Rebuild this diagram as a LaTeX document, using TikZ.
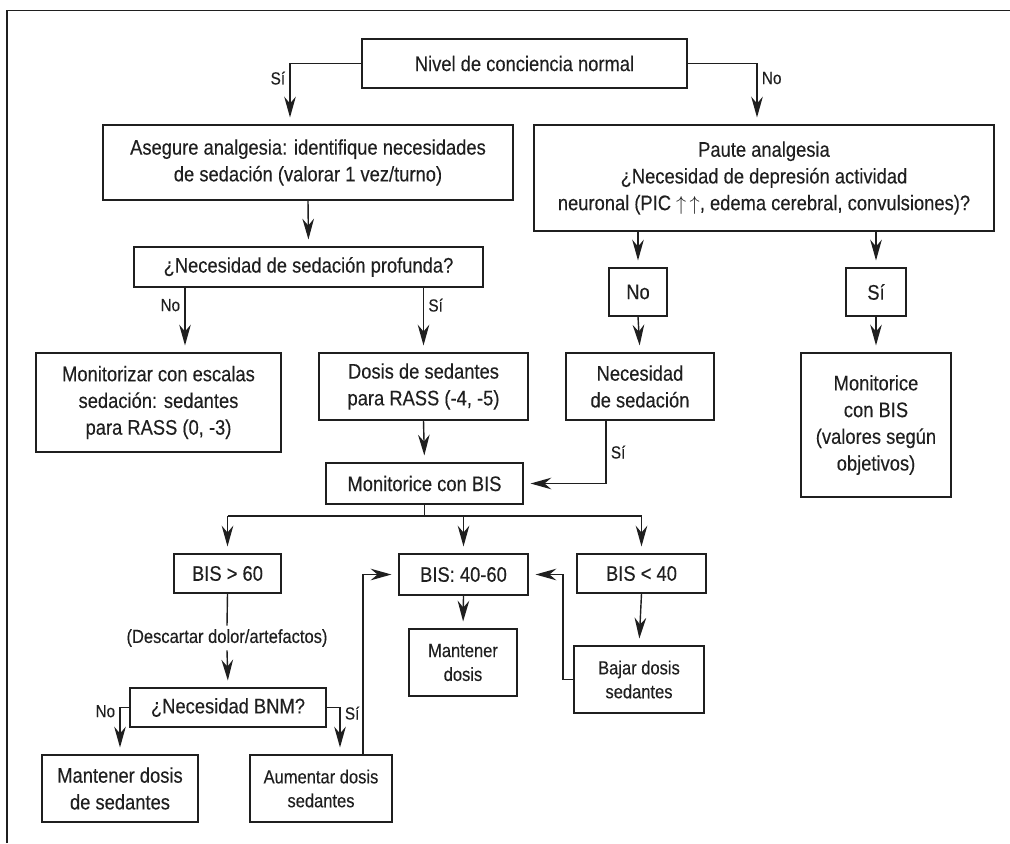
\documentclass[tikz,border=0pt]{standalone}
\usepackage{fontspec}
\setmainfont{Liberation Sans}[FakeStretch=0.87, FakeBold=0.25]
\usetikzlibrary{arrows.meta, positioning}

\begin{document}
\begin{tikzpicture}[x=0.025cm, y=-0.025cm, line width=1pt, color=black!88,
    box/.style={draw, align=center, inner sep=2pt, font=\fontsize{15}{19}\selectfont},
    small/.style={font=\fontsize{13.5}{17}\selectfont},
    lbl/.style={font=\fontsize{12.5}{14}\selectfont, inner sep=3pt},
    flow/.style={-{Stealth[length=5.2mm, width=2.9mm, inset=1.7mm]}, shorten >=0.17cm}]
    \useasboundingbox (0,0) rectangle (1010,843);

    % Frame (left and top only)
    \draw (7,843) -- (7,10.5) -- (1010,10.5);

    % Columns where arrows do not hit a box centre
    \coordinate (xSiA) at (290,0);
    \coordinate (xNoA) at (757,0);
    \coordinate (xNoB) at (185,0);
    \coordinate (xNs) at (606,0);
    \coordinate (xSiB) at (340,0);
    \coordinate (xAu) at (363,0);
    \coordinate (xBj) at (563,0);
    \coordinate (bus) at (0,516);

    % Top levels
    \node[box, minimum width=8.125cm, minimum height=1.225cm] (nivel) at (524.5,63.5) {Nivel de conciencia normal};
    \node[box, minimum width=10.25cm, minimum height=1.875cm] (asegure) at (308,162.5) {Asegure analgesia: identifique necesidades\\de sedación (valorar 1 vez/turno)};
    \node[box, minimum width=11.5cm, minimum height=2.65cm] (paute) at (764,178) {Paute analgesia\\¿Necesidad de depresión actividad\\neuronal (PIC $\uparrow\,\uparrow$, edema cerebral, convulsiones)?};
    \node[box, minimum width=8.725cm, minimum height=1cm] (profunda) at (308.5,267) {¿Necesidad de sedación profunda?};
    \node[box, minimum width=1.45cm, minimum height=1.2cm] (nobox) at (638,292) {No};
    \node[box, minimum width=1.5cm, minimum height=1.2cm] (sibox) at (876,292) {Sí};

    % Middle level
    \node[box, minimum width=6.125cm, minimum height=2.475cm] (monitorizar) at (158.5,402.5) {Monitorizar con escalas\\sedación: sedantes\\para RASS (0, -3)};
    \node[box, minimum width=5.225cm, minimum height=1.675cm] (dosis) at (423.5,386.5) {Dosis de sedantes\\para RASS (-4, -5)};
    \node[box, minimum width=3.7cm, minimum height=1.675cm] (necsed) at (640,386.5) {Necesidad\\de sedación};
    \node[box, minimum width=3.75cm, minimum height=3.6cm] (bisobj) at (876,425) {Monitorice\\con BIS\\(valores según\\objetivos)};
    \node[box, minimum width=4.925cm, minimum height=1.025cm] (monbis) at (424.5,483.5) {Monitorice con BIS};

    % BIS ranges
    \node[box, minimum width=2.675cm, minimum height=0.975cm] (bis60) at (227.5,573.5) {BIS > 60};
    \node[box, minimum width=3.225cm, minimum height=1.025cm] (bis4060) at (463.5,574.5) {BIS: 40-60};
    \node[box, minimum width=3.225cm, minimum height=0.975cm] (bis40) at (641.5,573.5) {BIS < 40};
    \node[box, small, minimum width=2.7cm, minimum height=1.675cm] (mantd) at (463,662.5) {Mantener\\dosis};
    \node[box, small, minimum width=3.25cm, minimum height=1.675cm] (bajar) at (639,679.5) {Bajar dosis\\sedantes};
    \node[small, inner sep=2pt] (descartar) at (227,638) {(Descartar dolor/artefactos)};
    \node[box, minimum width=4.9cm, minimum height=0.975cm] (bnm) at (228,707.5) {¿Necesidad BNM?};
    \node[box, minimum width=3.9cm, minimum height=1.675cm] (mantds) at (120,788.5) {Mantener dosis\\de sedantes};
    \node[box, small, minimum width=3.55cm, minimum height=1.675cm] (aument) at (321,788.5) {Aumentar dosis\\sedantes};

    % Connectors
    \draw[flow] (nivel.west) -| (asegure.north -| xSiA) node[lbl, pos=0.62, left] {Sí};
    \draw[flow] (nivel.east) -| (paute.north -| xNoA) node[lbl, pos=0.62, right] {No};
    \draw[flow] (asegure.south) -- (profunda.north);
    \draw[flow] (paute.south -| nobox) -- (nobox.north);
    \draw[flow] (paute.south -| sibox) -- (sibox.north);
    \draw[flow] (profunda.south -| xNoB) -- (monitorizar.north -| xNoB) node[lbl, pos=0.27, left] {No};
    \draw[flow] (profunda.south -| dosis) -- (dosis.north) node[lbl, pos=0.27, right] {Sí};
    \draw[flow] (nobox.south) -- (necsed.north);
    \draw[flow] (sibox.south) -- (bisobj.north);
    \draw[flow] (dosis.south) -- (monbis.north);
    \draw[flow] (necsed.south -| xNs) |- (monbis.east) node[lbl, pos=0.25, right] {Sí};

    \draw (monbis.south) -- (monbis.south |- bus);
    \draw (bis60 |- bus) -- (bis40 |- bus);
    \foreach \t in {bis60,bis4060,bis40}
        \draw[flow] (\t |- bus) -- (\t.north);

    \draw (bis60.south) -- (descartar.north);
    \draw[flow] (descartar.south) -- (bnm.north);
    \draw[flow] (bnm.west) -| (mantds.north) node[lbl, pos=0.54, left] {No};
    \draw[flow] (bnm.east) -| (aument.north -| xSiB) node[lbl, pos=0.56, right] {Sí};
    \draw[flow] (aument.north -| xAu) |- (bis4060.west);
    \draw[flow] (bis4060.south) -- (mantd.north);
    \draw[flow] (bis40.south) -- (bajar.north);
    \draw[flow] (bajar.west) -- (bajar.west -| xBj) |- (bis4060.east);
\end{tikzpicture}
\end{document}
